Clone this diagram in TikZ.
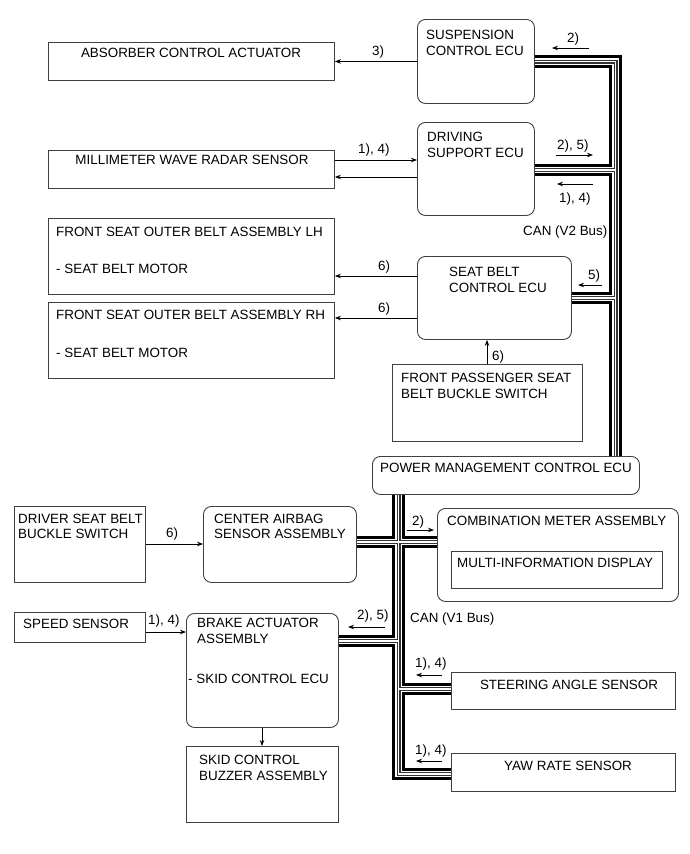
\documentclass[tikz,border=0pt]{standalone}
\usepackage{fontspec}
\setmainfont{Liberation Sans}
\usetikzlibrary{arrows.meta}
\begin{document}
\begin{tikzpicture}[x=1pt,y=-1pt,
  box/.style={draw=black!75,line width=0.9pt,inner sep=0pt,anchor=north west},
  rbox/.style={box,rounded corners=8pt},
  txt/.style={inner sep=0pt,font=\fontsize{13.4}{16}\selectfont,anchor=base west},
  ctxt/.style={txt,anchor=base},
  conn/.style={draw=black,line width=0.8pt,-{Stealth[length=6pt,width=4.5pt]}},
  busA/.style={line width=12.5pt,draw=black,line join=miter,line cap=butt},
  busB/.style={line width=6.3pt,draw=white,line join=miter,line cap=butt},
  busC/.style={line width=4pt,draw=black!80,line join=miter,line cap=butt},
  busD/.style={line width=1.5pt,draw=white,line join=miter,line cap=butt}]
\useasboundingbox (0,0) rectangle (690,854);
\fill[white] (0,0) rectangle (690,854);

% boxes
\node[box,minimum width=286pt,minimum height=38pt] (abs) at (48,42) {};
\node[box,minimum width=286pt,minimum height=38pt] (mmw) at (48,150) {};
\node[box,minimum width=286pt,minimum height=76pt] (lh) at (48,218) {};
\node[box,minimum width=286pt,minimum height=76pt] (rh) at (48,302) {};
\node[rbox,minimum width=117pt,minimum height=84pt] (susp) at (417,19) {};
\node[rbox,minimum width=117pt,minimum height=93pt] (dse) at (417,122) {};
\node[rbox,minimum width=154pt,minimum height=83pt] (sbc) at (417,256) {};
\node[box,minimum width=190pt,minimum height=77pt] (fps) at (392,364) {};
\node[rbox,minimum width=267pt,minimum height=38pt] (pmc) at (372,456) {};
\node[rbox,minimum width=241pt,minimum height=93pt] (cma) at (437,508) {};
\node[box,minimum width=211pt,minimum height=37pt] (mid) at (451,551) {};
\node[rbox,minimum width=153pt,minimum height=76pt] (casa) at (203,506) {};
\node[box,minimum width=131pt,minimum height=76pt] (dsb) at (14,506) {};
\node[box,minimum width=131pt,minimum height=30pt] (spd) at (14,612) {};
\node[rbox,minimum width=152pt,minimum height=114pt] (bra) at (186,613) {};
\node[box,minimum width=152pt,minimum height=76pt] (buz) at (186,746) {};
\node[box,minimum width=224pt,minimum height=37pt] (sas) at (451,672) {};
\node[box,minimum width=224pt,minimum height=38pt] (yaw) at (451,753) {};

% box texts
\node[ctxt] (tabs) at (191,57) {ABSORBER CONTROL ACTUATOR};
\node[ctxt] (tmmw) at (192,164) {MILLIMETER WAVE RADAR SENSOR};
\node[txt] (tlh1) at (56,236) {FRONT SEAT OUTER BELT ASSEMBLY LH};
\node[txt] (tlh2) at (56,273) {- SEAT BELT MOTOR};
\node[txt] (trh1) at (56,319) {FRONT SEAT OUTER BELT ASSEMBLY RH};
\node[txt] (trh2) at (56,357) {- SEAT BELT MOTOR};
\node[txt] (tsu1) at (426,39) {SUSPENSION};
\node[txt] (tsu2) at (426,55) {CONTROL ECU};
\node[txt] (tds1) at (427,141) {DRIVING};
\node[txt] (tds2) at (427,157) {SUPPORT ECU};
\node[txt] (tsb1) at (449,276) {SEAT BELT};
\node[txt] (tsb2) at (449,292) {CONTROL ECU};
\node[txt] (tfp1) at (401,382) {FRONT PASSENGER SEAT};
\node[txt] (tfp2) at (401,398) {BELT BUCKLE SWITCH};
\node[ctxt] (tpm) at (506,472) {POWER MANAGEMENT CONTROL ECU};
\node[txt] (tcm) at (447,525) {COMBINATION METER ASSEMBLY};
\node[txt] (tmi) at (457,567) {MULTI-INFORMATION DISPLAY};
\node[txt] (tca1) at (214,523) {CENTER AIRBAG};
\node[txt] (tca2) at (214,538) {SENSOR ASSEMBLY};
\node[txt] (tdb1) at (18,523) {DRIVER SEAT BELT};
\node[txt] (tdb2) at (18,538) {BUCKLE SWITCH};
\node[txt] (tsp) at (23,628) {SPEED SENSOR};
\node[txt] (tba1) at (197,627) {BRAKE ACTUATOR};
\node[txt] (tba2) at (197,643) {ASSEMBLY};
\node[txt] (tba3) at (188,683) {- SKID CONTROL ECU};
\node[txt] (tbz1) at (199,764) {SKID CONTROL};
\node[txt] (tbz2) at (199,780) {BUZZER ASSEMBLY};
\node[ctxt] (tsa) at (569,689) {STEERING ANGLE SENSOR};
\node[ctxt] (tyw) at (568,770) {YAW RATE SENSOR};

% bus coordinates
\coordinate (v2top) at (615.5,61.5);
\coordinate (v2d) at (615.5,170);
\coordinate (v2s) at (615.5,298);
\coordinate (v1x) at (398.5,542);
\coordinate (v1b) at (398.5,641);
\coordinate (v1s) at (398.5,689);
\coordinate (v1bot) at (398.5,774);
\newcommand\mybuspaths[1]{%
  \draw[#1] (susp.east |- v2top) -- (v2top) -- (v2top |- pmc.north);
  \draw[#1] (dse.east |- v2d) -- (v2d);
  \draw[#1] (sbc.east |- v2s) -- (v2s);
  \draw[#1] (v1x |- pmc.south) -- (v1bot) -- (v1bot -| yaw.west);
  \draw[#1] (casa.east |- v1x) -- (v1x -| cma.west);
  \draw[#1] (bra.east |- v1b) -- (v1b);
  \draw[#1] (v1s) -- (v1s -| sas.west);
}
\mybuspaths{busA}
\mybuspaths{busB}
\mybuspaths{busC}
\mybuspaths{busD}

% connectors between boxes
\draw[conn] (susp.west |- abs.east) -- (abs.east);
\draw[conn] (mmw.east |- 0,160) -- (dse.west |- 0,160);
\draw[conn] (dse.west |- 0,177) -- (mmw.east |- 0,177);
\draw[conn] (sbc.west |- 0,276) -- (lh.east |- 0,276);
\draw[conn] (sbc.west |- 0,318) -- (rh.east |- 0,318);
\draw[conn] (fps.north -| 487,0) -- (sbc.south -| 487,0);
\draw[conn] (dsb.east |- 0,544) -- (casa.west |- 0,544);
\draw[conn] (spd.east |- 0,632) -- (bra.west |- 0,632);
\draw[conn] (bra.south -| 262,0) -- (buz.north -| 262,0);

% connector labels
\node[txt] (l3) at (372,55) {3)};
\node[txt] (l14a) at (358,153) {1), 4)};
\node[txt] (l6a) at (378,270) {6)};
\node[txt] (l6b) at (378,312) {6)};
\node[txt] (l6c) at (492,360) {6)};
\node[txt] (l6d) at (166,537) {6)};
\node[txt] (l14b) at (148,624) {1), 4)};

% bus message arrows
\coordinate (f1a) at (589,48);  \coordinate (f1b) at (552,48);
\coordinate (f2a) at (556,155); \coordinate (f2b) at (593,155);
\coordinate (f3a) at (593,184); \coordinate (f3b) at (557,184);
\coordinate (f4a) at (602,285); \coordinate (f4b) at (578,285);
\coordinate (f5a) at (407,530); \coordinate (f5b) at (434,530);
\coordinate (f6a) at (385,627); \coordinate (f6b) at (348,627);
\coordinate (f7a) at (442,675); \coordinate (f7b) at (416,675);
\coordinate (f8a) at (442,761); \coordinate (f8b) at (416,761);
\draw[conn] (f1a) -- (f1b);
\draw[conn] (f2a) -- (f2b);
\draw[conn] (f3a) -- (f3b);
\draw[conn] (f4a) -- (f4b);
\draw[conn] (f5a) -- (f5b);
\draw[conn] (f6a) -- (f6b);
\draw[conn] (f7a) -- (f7b);
\draw[conn] (f8a) -- (f8b);
\node[txt] (m1) at (567,42) {2)};
\node[txt] (m2) at (557,149) {2), 5)};
\node[txt] (m3) at (559,202) {1), 4)};
\node[txt] (m4) at (588,279) {5)};
\node[txt] (m5) at (412,525) {2)};
\node[txt] (m6) at (357,619) {2), 5)};
\node[txt] (m7) at (415,667) {1), 4)};
\node[txt] (m8) at (415,754) {1), 4)};
\node[txt] (can2) at (523,235) {CAN (V2 Bus)};
\node[txt] (can1) at (410,622) {CAN (V1 Bus)};
\end{tikzpicture}
\end{document}
